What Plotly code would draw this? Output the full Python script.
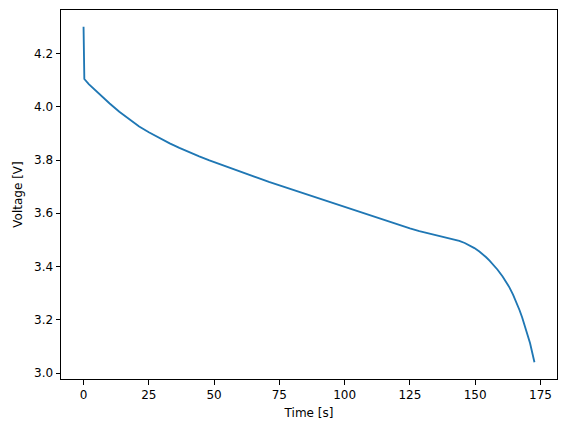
import plotly.graph_objects as go

time_s = [0, 0.3, 2, 4, 6, 10, 13.7, 17.5, 21.3, 25, 29, 33, 36.7, 40.5, 44.3, 48.2, 52, 56, 59.7, 63.5, 67.3, 71, 75, 78.8, 82.6, 86.5, 90.3, 94, 98, 101.8, 105.6, 109.5, 113, 117, 121, 125, 128.6, 132.5, 136.3, 140.1, 143.9, 146, 147.8, 149.7, 151.6, 153, 154.2, 155.5, 156.7, 158.5, 160.5, 162, 163.1, 164.5, 165.7, 167, 168, 169.5, 171, 172.7]
voltage = [4.300, 4.104, 4.085, 4.066, 4.047, 4.012, 3.981, 3.9525, 3.9255, 3.904, 3.882, 3.8625, 3.8455, 3.829, 3.814, 3.799, 3.785, 3.771, 3.758, 3.744, 3.731, 3.718, 3.705, 3.692, 3.680, 3.667, 3.655, 3.642, 3.629, 3.617, 3.604, 3.591, 3.580, 3.567, 3.555, 3.543, 3.533, 3.524, 3.5155, 3.5065, 3.4965, 3.4885, 3.4805, 3.4695, 3.4565, 3.4455, 3.435, 3.422, 3.410, 3.389, 3.363, 3.341, 3.322, 3.295, 3.268, 3.236, 3.209, 3.164, 3.113, 3.041]

x_ticks = [0, 25, 50, 75, 100, 125, 150, 175]
y_ticks = [3.0, 3.2, 3.4, 3.6, 3.8, 4.0, 4.2]

fig = go.Figure()
fig.add_trace(go.Scatter(x=time_s, y=voltage, mode="lines",
                         line=dict(color="#1f77b4", width=1.85),
                         showlegend=False))

xmin, xmax = min(time_s), max(time_s)
ymin, ymax = min(voltage), max(voltage)
dx = 0.05 * (xmax - xmin)
dy = 0.05 * (ymax - ymin)

axis_common = dict(showline=True, mirror=True, linecolor="black", linewidth=1,
                   ticks="outside", ticklen=4.5, tickwidth=1, tickcolor="black",
                   showgrid=False, zeroline=False,
                   tickfont=dict(family="DejaVu Sans", size=12, color="black"))

fig.update_layout(
    width=567, height=432,
    margin=dict(l=61, r=10, t=10, b=53),
    paper_bgcolor="white", plot_bgcolor="white",
    xaxis=dict(range=[xmin - dx, xmax + dx], tickvals=x_ticks,
               ticktext=[str(v) for v in x_ticks],
               title=dict(text="Time [s]", standoff=7,
                          font=dict(family="DejaVu Sans", size=12, color="black")),
               **axis_common),
    yaxis=dict(range=[ymin - dy, ymax + dy], tickvals=y_ticks,
               ticktext=[f"{v:.1f}" for v in y_ticks],
               title=dict(text="Voltage [V]", standoff=8,
                          font=dict(family="DejaVu Sans", size=12, color="black")),
               **axis_common),
)

fig.write_html("out.html")
